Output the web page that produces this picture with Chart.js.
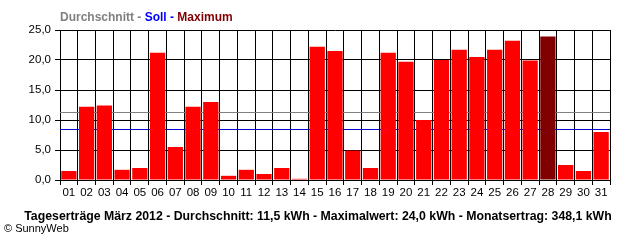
<!DOCTYPE html>
<html>
<head>
<meta charset="utf-8">
<script src="https://cdn.jsdelivr.net/npm/chart.js@4"></script>
<style>
  html, body { margin: 0; padding: 0; background: #fff; }
  #wrap { width: 640px; height: 240px; position: relative; }
</style>
</head>
<body>
<div id="wrap"><canvas id="chart" width="640" height="240"></canvas></div>
<script>
const days = ['01','02','03','04','05','06','07','08','09','10','11','12','13','14','15','16',
              '17','18','19','20','21','22','23','24','25','26','27','28','29','30','31'];
const yields = [1.5, 12.2, 12.4, 1.7, 2.0, 21.2, 5.5, 12.2, 13.0, 0.7, 1.7, 1.0, 2.0, 0.2, 22.2, 21.5,
                4.9, 2.0, 21.2, 19.7, 10.0, 20.0, 21.7, 20.5, 21.7, 23.2, 19.9, 23.9, 2.5, 1.5, 8.0];
const averageValue = 11.3;
const targetValue = 8.5;
const yTicks = [0, 5, 10, 15, 20, 25];
const legendParts = [['Durchschnitt - ', '#808080'], ['Soll - ', '#0000ff'], ['Maximum', '#800000']];
const footerText = 'Tageserträge März 2012 - Durchschnitt: 11,5 kWh - Maximalwert: 24,0 kWh - Monatsertrag: 348,1 kWh';

const maxVal = Math.max(...yields);
const barColors = yields.map(v => v === maxVal ? '#800000' : '#ff0000');

const refLines = {
  id: 'refLines',
  beforeDatasetsDraw(chart) {
    const { ctx, chartArea, scales } = chart;
    ctx.save();
    ctx.lineWidth = 1;
    [[averageValue, '#808080'], [targetValue, '#0000cc']].forEach(([v, c]) => {
      const y = Math.round(scales.y.getPixelForValue(v)) + 0.5;
      ctx.strokeStyle = c;
      ctx.beginPath();
      ctx.moveTo(chartArea.left, y);
      ctx.lineTo(chartArea.right, y);
      ctx.stroke();
    });
    ctx.restore();
  },
  afterDraw(chart) {
    const ctx = chart.ctx;
    ctx.save();
    ctx.textBaseline = 'alphabetic';
    ctx.font = 'bold 12px "Liberation Sans", Arial, sans-serif';
    let x = 60;
    legendParts.forEach(([t, c]) => {
      ctx.fillStyle = c;
      ctx.fillText(t, x, 21);
      x += ctx.measureText(t).width;
    });
    ctx.fillStyle = '#000';
    ctx.textAlign = 'center';
    ctx.font = 'bold 12.3px "Liberation Sans", Arial, sans-serif';
    ctx.fillText(footerText, 318, 220);
    ctx.textAlign = 'left';
    ctx.font = '11px "Liberation Sans", Arial, sans-serif';
    ctx.fillText('© SunnyWeb', 4, 232);
    ctx.restore();
  }
};

new Chart(document.getElementById('chart'), {
  type: 'bar',
  data: {
    labels: days,
    datasets: [{
      data: yields,
      backgroundColor: barColors,
      borderWidth: 0,
      barPercentage: 0.86,
      categoryPercentage: 1
    }]
  },
  options: {
    responsive: false,
    animation: false,
    layout: { padding: { left: 0, right: 30, top: 30, bottom: 40 } },
    plugins: { legend: { display: false }, tooltip: { enabled: false } },
    scales: {
      x: {
        afterFit(s) { s.height = 20; },
        grid: { color: '#000', lineWidth: 1, tickLength: 5, offset: true },
        border: { color: '#000' },
        ticks: { color: '#000', font: { size: 11.5, family: '"Liberation Sans", Arial, sans-serif' }, maxRotation: 0, autoSkip: false, padding: 1 }
      },
      y: {
        min: 0,
        max: 25,
        afterFit(s) { s.width = 60; },
        afterBuildTicks(s) { s.ticks = yTicks.map(v => ({ value: v })); },
        grid: { color: '#000', lineWidth: 1, tickLength: 5 },
        border: { color: '#000' },
        ticks: {
          color: '#000',
          padding: 4,
          font: { size: 11.5, family: '"Liberation Sans", Arial, sans-serif' },
          callback: v => v.toFixed(1).replace('.', ',')
        }
      }
    }
  },
  plugins: [refLines]
});
</script>
</body>
</html>
